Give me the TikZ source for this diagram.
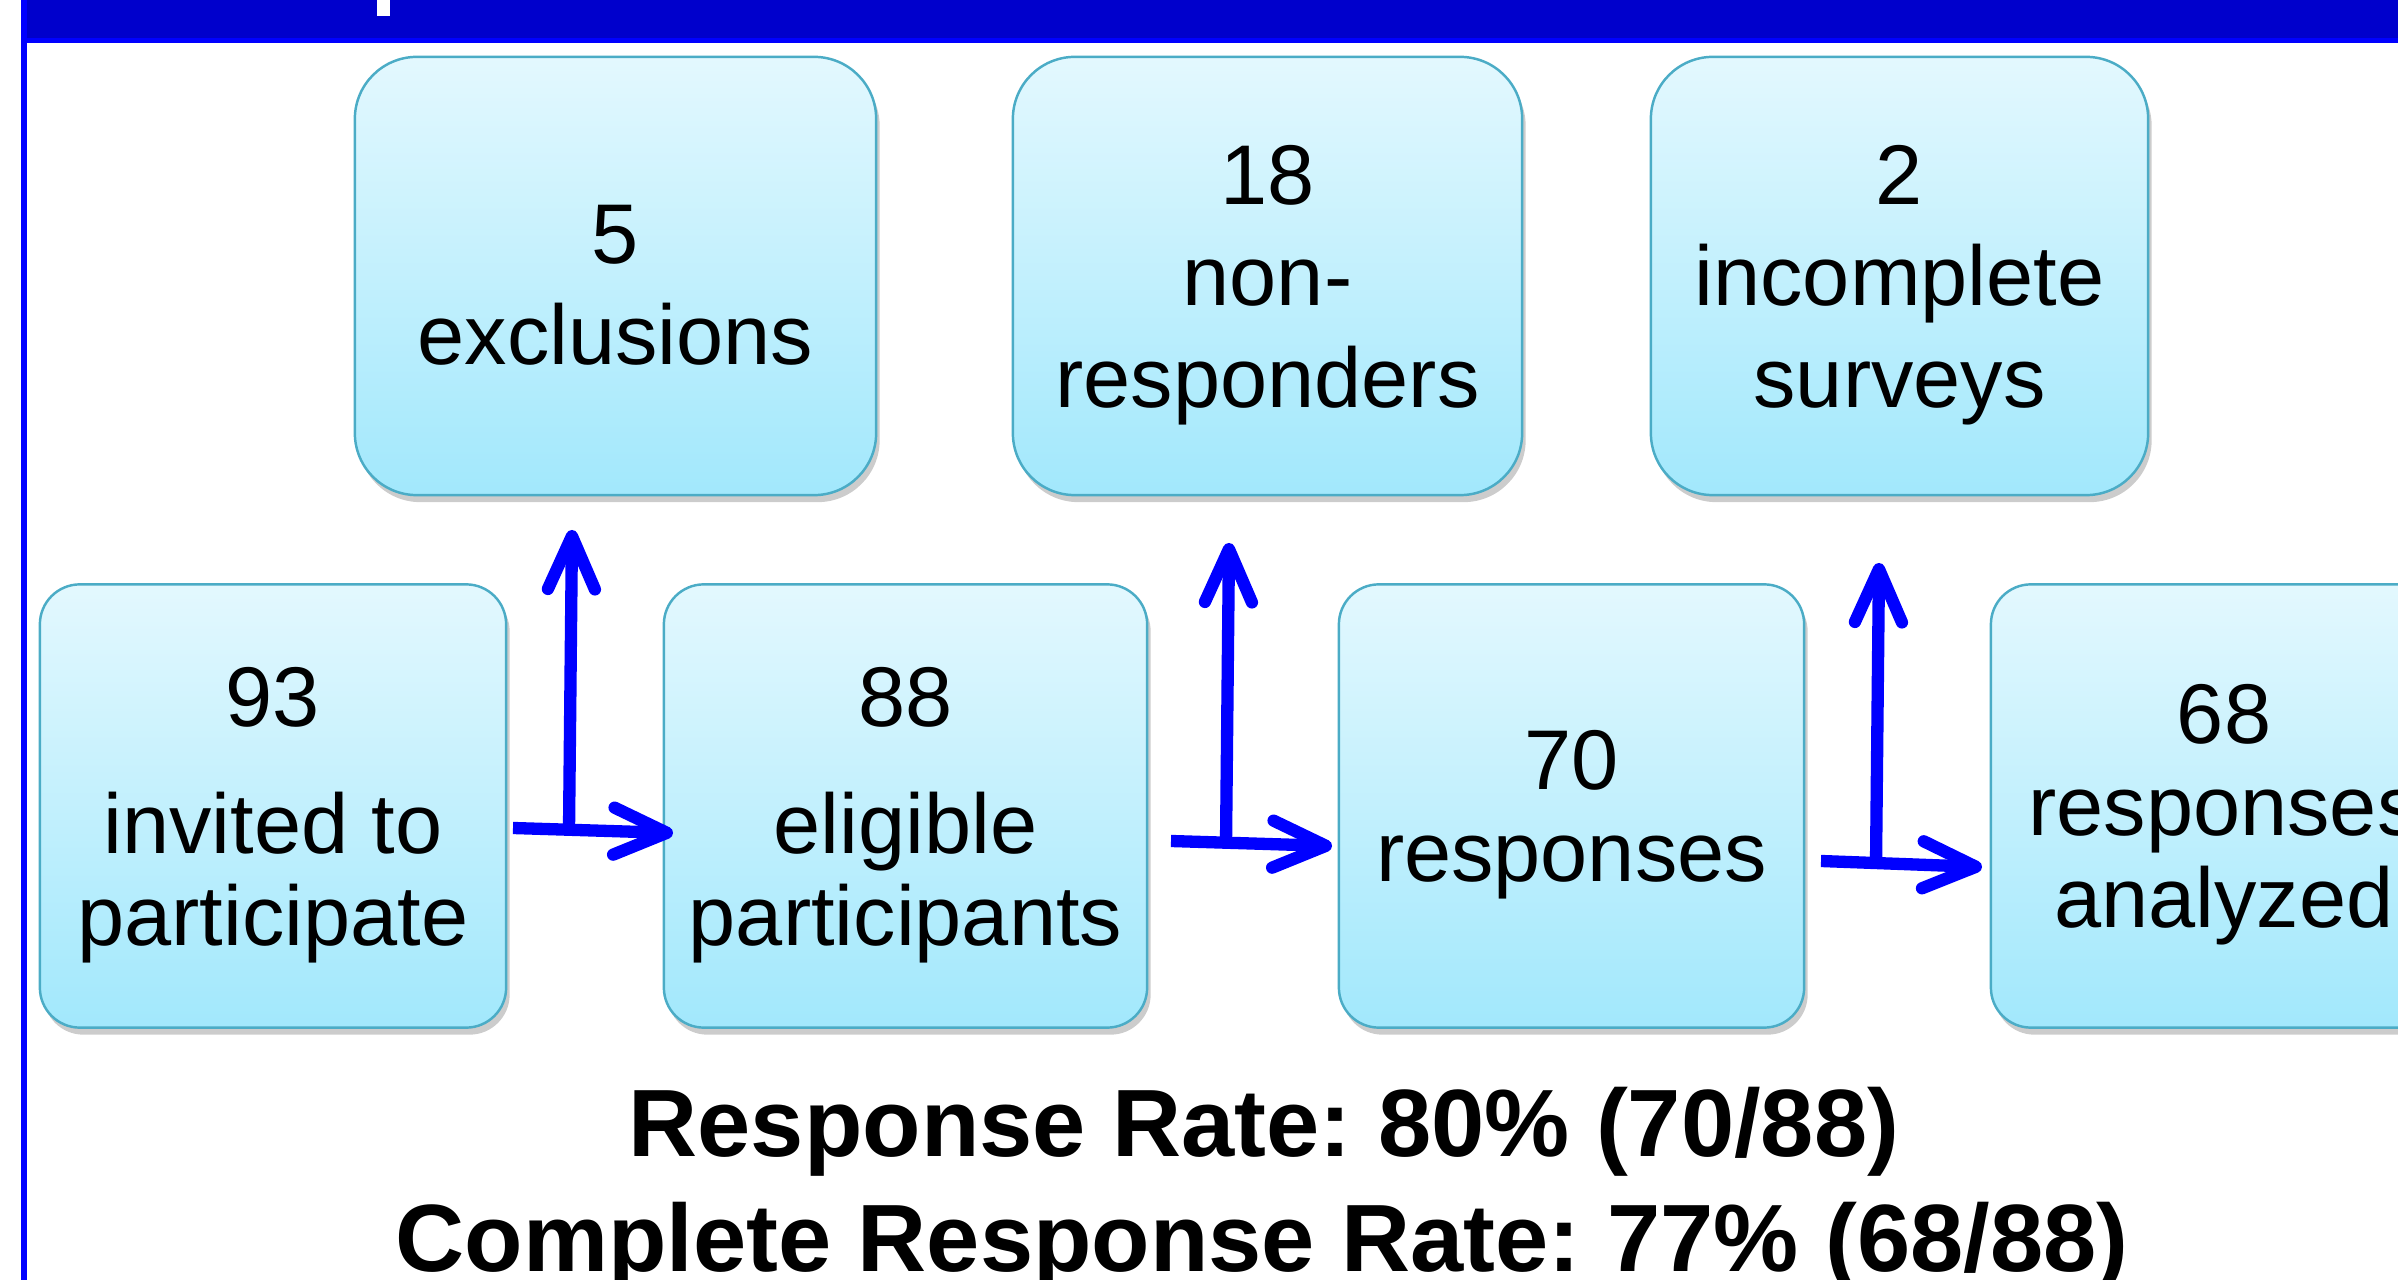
\documentclass[tikz,border=0pt]{standalone}
\usepackage{fontspec}
\setmainfont{Liberation Sans}
\usetikzlibrary{arrows.meta,shadows}
\definecolor{barblue}{HTML}{0000CC}
\definecolor{lineblue}{HTML}{0000FF}
\definecolor{boxedge}{HTML}{4BACC6}
\definecolor{boxtop}{HTML}{E3F8FE}
\definecolor{boxbottom}{HTML}{A2E8FC}
\newcommand{\tallline}{\rule{0pt}{0.77cm}}
\frenchspacing

\begin{document}
\begin{tikzpicture}[x=0.01cm,y=-0.01cm]
   \useasboundingbox (0,0) rectangle (2398,1280);
   \clip (0,0) rectangle (2398,1280);
   \tikzstyle{stage}=[rectangle, draw=boxedge, line width=0.7pt, top color=boxtop, bottom color=boxbottom, align=center, inner sep=0pt, drop shadow={shadow xshift=1pt, shadow yshift=-2pt, opacity=0.2, fill=black}]
   \tikzstyle{high}=[rounded corners=0.62cm, minimum height=4.38cm, font=\fontsize{24.1}{28.9}\selectfont]
   \tikzstyle{low}=[rounded corners=0.4cm, minimum height=4.43cm, font=\fontsize{24.1}{26.1}\selectfont]
   \tikzstyle{flow}=[draw=lineblue, line width=3.5pt, arrows={-{Straight Barb[length=5.3mm,width=4.7mm,round]}}]
   \tikzstyle{summary}=[anchor=base, inner sep=0pt, font=\bfseries\fontsize{27.2}{32}\selectfont]
   % title bar and frame
   \fill[barblue] (24,0) rectangle (2398,40);
   \fill[white] (377,0) rectangle (390,16);
   \draw[lineblue, line width=1.6pt] (24,0) -- (24,1280) (24,40.5) -- (2398,40.5);
   % losses
   \foreach \n/\x/\w/\txt in {excl/615.5/5.21/{5\\exclusions}, nonresp/1267.5/5.09/{18\\non-\\responders}, incompl/1899.5/4.97/{2\\incomplete\\surveys}} {
       \node[stage, high, minimum width=\w cm] (\n) at (\x,276) {\tallline\txt};
   }
   % flow
   \foreach \n/\x/\w/\txt in {invited/273/4.66/{93\\[10pt]invited to\\participate}, eligible/905.5/4.83/{88\\[10pt]eligible\\participants}, responses/1571.5/4.65/{70\\responses}, analyzed/2224/4.66/{68\\responses\\analyzed}} {
       \node[stage, low, minimum width=\w cm] (\n) at (\x,806) {\tallline\txt};
   }
   \foreach \i/\s/\t/\f/\u in {1/{513,828}/{673,833}/{569,830}/{572,530}, 2/{1171,841}/{1332,846}/{1226,843}/{1229,543}, 3/{1821,861}/{1982,867}/{1876,863}/{1879,563}} {
       \coordinate (from\i) at (\s);
       \coordinate (to\i) at (\t);
       \coordinate (foot\i) at (\f);
       \coordinate (up\i) at (\u);
       \path (from\i) edge[flow] (to\i) (foot\i) edge[flow] (up\i);
   }
   \node[summary] (rate) at (1264,1156) {Response Rate: 80\% (70/88)};
   \node[summary] (fullrate) at (1262,1271) {Complete Response Rate: 77\% (68/88)};
\end{tikzpicture}
\end{document}
